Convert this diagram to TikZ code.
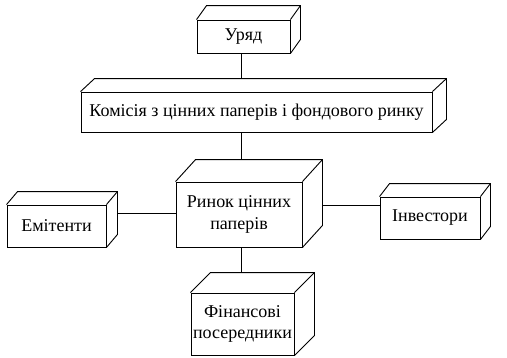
\documentclass[tikz,border=0pt]{standalone}
\usepackage{fontspec}
\setmainfont{Liberation Serif}
\usetikzlibrary{calc}

\def\px{0.25mm}
% back edges of a box: name, dx, dy
\newcommand{\boxback}[3]{%
  \draw (#1.north west) -- ++(#2,-#3) coordinate (#1 bnw)
    -- ($(#1.north east)+(#2,-#3)$) coordinate (#1 bne)
    -- ($(#1.south east)+(#2,-#3)$) coordinate (#1 bse)
    -- (#1.south east);
  \draw (#1.north east) -- (#1 bne);
  \coordinate (#1 be) at ($(#1 bne)!0.5!(#1 bse)$);
}

\begin{document}
\begin{tikzpicture}[x=\px, y=-\px, line width=0.65pt,
    unit/.style={draw, fill=white, inner sep=1pt, align=center,
      font=\fontsize{12.8}{15.5}\selectfont},
    link/.style={draw}]
  \useasboundingbox (0,0) rectangle (507,357);
  \coordinate (spine) at (241,0);

  \node[unit, minimum width=93*\px, minimum height=33*\px] (uriad) at (243.5,36.5) {Уряд};
  \boxback{uriad}{10}{14}
  \node[unit, minimum width=351*\px, minimum height=40*\px] (komisiia) at (256.5,112) {Комісія з цінних паперів і фондового ринку};
  \boxback{komisiia}{14}{13}
  \node[unit, minimum width=126*\px, minimum height=65*\px] (rynok) at (239,214.5) {Ринок цінних\\паперів};
  \boxback{rynok}{20}{22}
  \node[unit, minimum width=99*\px, minimum height=42*\px] (emitenty) at (56.5,226) {Емітенти};
  \boxback{emitenty}{11}{13}
  \node[unit, minimum width=100*\px, minimum height=42*\px] (investory) at (430,218) {Інвестори};
  \boxback{investory}{10}{13}
  \node[unit, minimum width=103*\px, minimum height=62*\px] (posered) at (242.5,324) {Фінансові\\посередники};
  \boxback{posered}{20}{20}

  % connectors
  \draw[link] (uriad.south -| spine) -- (komisiia bne -| spine);
  \draw[link] (komisiia.south -| spine) -- (rynok bne -| spine);
  \draw[link] (rynok.south -| spine) -- (posered bne -| spine);
  \draw[link] (emitenty be) -- (emitenty be -| rynok.west);
  \draw[link] (rynok be |- investory be) -- (investory be -| investory.west);
\end{tikzpicture}
\end{document}
